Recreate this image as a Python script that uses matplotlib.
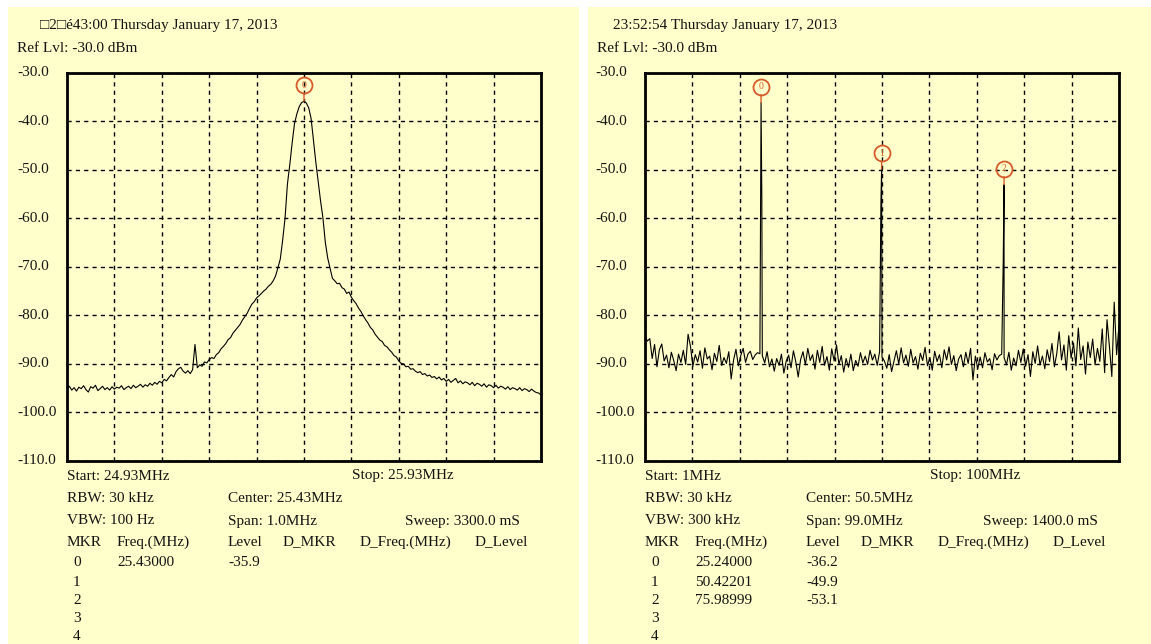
import numpy as np
import matplotlib
matplotlib.use('Agg')
import matplotlib.pyplot as plt
from matplotlib.transforms import blended_transform_factory, offset_copy

plt.rcParams['font.family'] = ['Liberation Serif', 'DejaVu Serif']

left_start, left_stop = 24.93, 25.93
left_levels = [
    -95.2, -94.6, -95.4, -94.9, -95.6, -94.8, -95.1, -94.5, -95.3, -95.8,
    -94.7, -95.0, -94.4, -95.5, -95.1, -94.6, -95.3, -94.9, -95.4, -94.7,
    -95.2, -94.8, -95.0, -94.5, -95.3, -94.9, -94.6, -95.1, -94.4, -94.9,
    -94.6, -94.2, -94.8, -94.3, -94.6, -94.0, -94.4, -93.8, -94.2, -93.6,
    -93.9, -93.2, -93.5, -92.8, -92.2, -92.7, -91.6, -91.0, -90.7, -91.5,
    -91.9, -91.4, -92.0, -91.2, -86.0, -90.8, -90.2, -90.5, -89.6, -89.8,
    -89.1, -88.7, -88.9, -88.1, -87.7, -86.9, -86.4, -85.8, -85.0, -84.6,
    -83.7, -83.1, -82.5, -81.9, -81.0, -80.3, -79.6, -78.6, -77.7, -77.2,
    -76.4, -76.0, -75.5, -75.0, -74.6, -74.0, -73.6, -72.9, -71.9, -70.2,
    -68.4, -64.5, -60.0, -53.0, -49.0, -44.5, -40.5, -38.5, -37.0, -36.2,
    -35.9, -36.3, -37.3, -39.5, -44.0, -48.5, -52.5, -56.5, -60.0, -65.0,
    -68.2, -70.3, -72.4, -72.9, -73.5, -73.4, -74.3, -74.6, -75.5, -75.2,
    -76.3, -77.0, -77.6, -78.5, -79.2, -80.1, -80.9, -81.6, -82.5, -83.0,
    -83.9, -84.5, -85.1, -85.4, -86.2, -86.5, -87.1, -87.6, -88.3, -88.6,
    -89.4, -89.9, -90.0, -90.6, -90.5, -91.1, -91.0, -91.5, -91.8, -91.6,
    -92.2, -92.0, -92.5, -92.3, -92.8, -92.6, -93.1, -92.7, -93.3, -93.0,
    -93.6, -93.2, -93.8, -93.4, -93.0, -93.9, -93.5, -94.1, -93.7, -93.9,
    -94.3, -93.8, -94.5, -94.0, -94.2, -94.6, -94.1, -94.8, -94.3, -94.5,
    -94.9, -94.4, -95.0, -94.6, -94.8, -95.2, -94.7, -95.3, -94.9, -95.1,
    -95.4, -94.9, -95.5, -95.1, -95.3, -95.7, -95.2, -95.6, -95.9, -96.0,
    -96.4,
]
left_mkr_freq = [25.43000]
left_mkr_level = [-35.9]

right_start, right_stop = 1.0, 100.0
right_levels = [
    -84.2, -85.3, -84.8, -88.9, -86.0, -90.6, -87.1, -85.9, -89.4, -88.2,
    -90.8, -87.6, -89.3, -91.4, -88.0, -89.7, -87.2, -90.1, -83.9, -86.4,
    -90.5, -88.1, -89.6, -87.3, -90.9, -86.7, -89.0, -88.4, -91.2, -87.8,
    -89.5, -86.2, -90.3, -88.7, -89.9, -87.5, -93.1, -89.2, -87.0, -90.4,
    -88.3, -86.8, -89.7, -88.0, -87.4, -89.1, -88.2, -87.7, -87.9, -88.3,
    -89.8, -87.5, -90.6, -89.0, -91.5, -88.9, -90.3, -88.0, -91.9, -89.4,
    -88.2, -90.8, -87.3, -89.6, -92.7, -89.1, -87.5, -90.2, -86.8, -89.3,
    -88.1, -91.1, -87.2, -89.7, -86.4, -90.3, -88.5, -91.3, -86.9, -89.4,
    -86.1, -90.1, -88.3, -91.7, -88.9, -90.7, -88.0, -91.4, -89.3, -90.5,
    -87.7, -89.8, -88.4, -90.1, -87.2, -89.2, -88.0, -90.3, -87.5, -88.6,
    -89.4, -90.9, -88.1, -91.6, -89.5, -87.3, -90.0, -86.7, -89.8, -88.2,
    -90.5, -87.0, -89.8, -88.5, -91.1, -87.8, -89.3, -86.6, -90.4, -88.7,
    -91.3, -87.4, -89.5, -88.1, -90.8, -87.1, -89.2, -86.5, -90.1, -88.3,
    -91.4, -89.0, -88.1, -90.6, -87.6, -89.9, -86.8, -93.3, -88.4, -91.0,
    -88.6, -90.8, -87.7, -89.6, -88.9, -91.2, -87.9, -89.2, -88.3, -88.0,
    -88.7, -90.2, -87.6, -91.3, -88.8, -90.4, -87.2, -89.7, -86.9, -90.5,
    -88.1, -92.6, -87.5, -89.9, -86.3, -90.2, -88.4, -91.0, -87.1, -89.5,
    -85.8, -90.6, -87.9, -83.4, -89.2, -86.1, -91.3, -84.2, -88.8, -85.7,
    -90.4, -82.6, -89.1, -86.3, -92.1, -85.5, -88.7, -84.9, -90.2, -86.8,
    -89.5, -82.8, -91.8, -80.9, -86.4, -92.6, -77.3, -88.1, -82.0,
]
right_mkr_freq = [25.24000, 50.42201, 75.98999]
right_mkr_level = [-36.2, -49.9, -53.1]
right_shoulder_freq = [25.40, 50.28, 75.82]
right_shoulder_level = [-56.0, -56.3, -69.0]

left_info = dict(time='\u25a12\u25a1é43:00 Thursday January 17, 2013', start='24.93MHz',
                 stop='25.93MHz', rbw='30 kHz', vbw='100 Hz', center='25.43MHz',
                 span='1.0MHz', sweep='3300.0 mS')
right_info = dict(time='23:52:54 Thursday January 17, 2013', start='1MHz',
                  stop='100MHz', rbw='30 kHz', vbw='300 kHz', center='50.5MHz',
                  span='99.0MHz', sweep='1400.0 mS')

# ---- layout (pixels of the 1151x644 canvas) ----
W, H = 1151, 644
BG = '#FFFFCB'
TXT = '#141414'
MK = '#D65A2A'
FS = 11

fig = plt.figure(figsize=(W / 100, H / 100), dpi=100, facecolor='white')


def fx(px):
    return px / W


def fy(py):
    return 1 - py / H


def panel(x0, x1, ax_left, head_x, freq, levels, mk_f, mk_l, info):
    fig.patches.append(plt.Rectangle((fx(x0), 0), (x1 - x0) / W, fy(7), transform=fig.transFigure,
                                     facecolor=BG, edgecolor='none', zorder=-5))
    ax = fig.add_axes([fx(ax_left), fy(461), 474 / W, 388.5 / H])
    ax.set_facecolor(BG)
    ax.plot(freq, levels, color='black', lw=0.8, zorder=3)
    ax.set_xlim(freq[0], freq[-1])
    ax.set_ylim(-110, -30)
    ax.set_xticks(np.linspace(freq[0], freq[-1], 11))
    ax.set_yticks(range(-110, -29, 10))
    ax.tick_params(length=0, labelbottom=False, labelleft=False)
    ax.grid(True, color='black', linestyle=(0, (3, 3)), lw=1.0)
    for s in ax.spines.values():
        s.set_linewidth(2.0)
        s.set_color('black')
        s.set_zorder(5)

    tr = blended_transform_factory(ax.transAxes, ax.transData)
    for v in range(-110, -29, 10):
        ax.text(-0.104, v, f'{v:.1f}', transform=tr, ha='left', va='center', fontsize=FS,
                color=TXT)

    # markers: circle a little above the peak, thin line down to it
    circ = offset_copy(ax.transData, fig=fig, y=16, units='dots')
    for k, (f, l) in enumerate(zip(mk_f, mk_l)):
        ax.annotate('', xy=(f, l), xytext=(0, 8), textcoords='offset pixels',
                    arrowprops=dict(arrowstyle='-', color=MK, lw=1.0, shrinkA=0, shrinkB=0),
                    zorder=6)
        ax.plot([f], [l], marker='o', ms=11.5, mfc='none', mec=MK, mew=1.3,
                transform=circ, zorder=6, clip_on=False)
        ax.text(f, l, str(k), transform=circ, ha='center', va='center', fontsize=7,
                color=MK, zorder=6)

    def t(x, y, s, **kw):
        fig.text(fx(x), fy(y), s, ha='left', va='center', fontsize=FS, color=TXT, **kw)

    L = ax_left
    t(head_x, 25, info['time'])
    t(x0 + 9, 48, 'Ref Lvl: -30.0 dBm')
    t(L, 476, 'Start: ' + info['start'])
    t(L + 285, 476, 'Stop: ' + info['stop'])
    t(L, 499, 'RBW: ' + info['rbw'])
    t(L + 161, 499, 'Center: ' + info['center'])
    t(L, 521, 'VBW: ' + info['vbw'])
    t(L + 161, 521, 'Span: ' + info['span'])
    t(L + 338, 521, 'Sweep: ' + info['sweep'])
    t(L, 542, 'MKR')
    t(L + 50, 542, 'Freq.(MHz)')
    t(L + 161, 542, 'Level')
    t(L + 216, 542, 'D_MKR')
    t(L + 293, 542, 'D_Freq.(MHz)')
    t(L + 408, 542, 'D_Level')
    rows = [562, 582, 600, 619, 637]
    for k, y in enumerate(rows):
        t(L + 6, y, str(k))
        if k < len(mk_f):
            t(L + 50, y, f'{mk_f[k]:.5f}')
            t(L + 161, y, f'{mk_l[k]:.1f}')
    return ax


left_freq = np.linspace(left_start, left_stop, len(left_levels))
panel(8, 579, 67, 40, left_freq, left_levels, left_mkr_freq, left_mkr_level, left_info)

# right trace: swept grid plus the spike samples, merged in frequency order
rf = np.linspace(right_start, right_stop, len(right_levels))
all_f = np.concatenate([rf, right_mkr_freq, right_shoulder_freq])
all_l = np.concatenate([right_levels, right_mkr_level, right_shoulder_level])
order = np.argsort(all_f)
panel(588, 1151, 645, 613, all_f[order], all_l[order], right_mkr_freq, right_mkr_level,
      right_info)

fig.savefig('out.png', dpi=100, facecolor='white')
